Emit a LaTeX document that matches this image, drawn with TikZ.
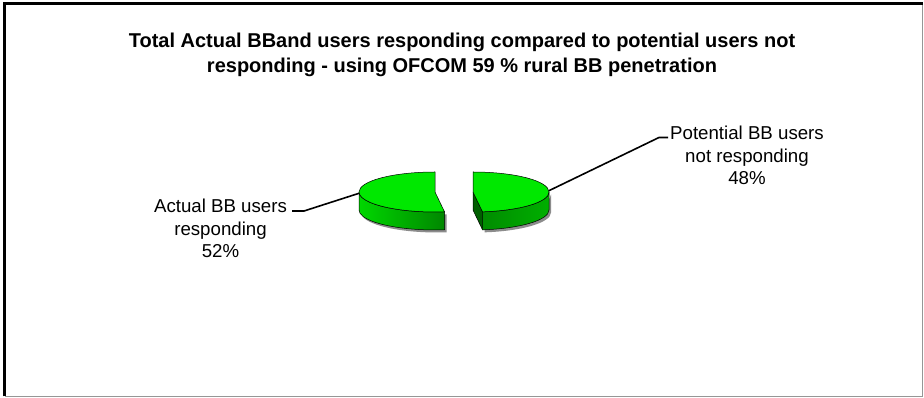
\documentclass[tikz,border=0pt]{standalone}
\usepackage{fontspec}
\setmainfont{Liberation Sans}
\definecolor{pietop}{RGB}{0,232,0}
\definecolor{sidelight}{RGB}{0,215,0}
\definecolor{sidemid}{RGB}{0,175,0}
\definecolor{sidedark}{RGB}{0,135,0}
\definecolor{cutface}{RGB}{0,95,0}
\definecolor{framegray}{RGB}{150,150,150}
\begin{document}
\begin{tikzpicture}[x=1pt,y=1pt,
  lbl/.style={font=\fontsize{18.67}{22.7}\selectfont, align=center, inner sep=0pt},
  ttl/.style={font=\fontsize{20}{25}\selectfont\bfseries, align=center, inner sep=0pt},
  leader/.style={line width=1.6pt, black, line join=round},
  topface/.style={fill=pietop, draw=black, line width=0.5pt, line join=round},
  sideface/.style={draw=black, line width=0.5pt, line join=round},
  shadowface/.style={fill=black!45},
  el/.style={x radius=76, y radius=20}]
\useasboundingbox (0,0) rectangle (924,398);
\fill[white] (0,0) rectangle (924,398);
% frame
\draw[line width=1pt, framegray] (922.5,394) -- (922.5,1.5) -- (4.5,1.5);
\draw[line width=2.5pt] (4.5,1.5) -- (4.5,394.5) -- (922.5,394.5);
% title
\node[ttl] (title) at (462,343) {Total Actual BBand users responding compared to potential users not\\responding - using OFCOM 59 \% rural BB penetration};
% ---- left slice (52%)
\coordinate (cL) at (435,206);
\path[shadowface] ([shift={(2,-2.5)}]cL) ++(180:76 and 20) arc[start angle=180, end angle=277.2, el] -- ++(0,-18) arc[start angle=277.2, end angle=180, el] -- cycle;
\path[sideface, left color=sidelight, right color=sidedark] (cL) ++(180:76 and 20) arc[start angle=180, end angle=277.2, el] -- ++(0,-18) arc[start angle=277.2, end angle=180, el] -- cycle;
\path[topface] (cL) -- ++(90:76 and 20) arc[start angle=90, end angle=277.2, el] -- cycle;
% ---- right slice (48%)
\coordinate (cR) at (473,206);
\path[shadowface] ([shift={(2,-2.5)}]cR) ++(-82.8:76 and 20) arc[start angle=-82.8, end angle=0, el] -- ++(0,-18) arc[start angle=0, end angle=-82.8, el] -- cycle;
\path[sideface, fill=cutface] (cR) -- ++(-82.8:76 and 20) -- ++(0,-18) -- ([yshift=-18]cR) -- cycle;
\path[sideface, left color=sidedark, middle color=sidemid, right color=sidemid] (cR) ++(-82.8:76 and 20) arc[start angle=-82.8, end angle=0, el] -- ++(0,-18) arc[start angle=0, end angle=-82.8, el] -- cycle;
\path[topface] (cR) -- ++(90:76 and 20) arc[start angle=90, end angle=-82.8, el] -- cycle;
% labels
\node[lbl] (lab52) at (220.5,169.5) {Actual BB users\\responding\\52\%};
\node[lbl] (lab48) at (747,242.5) {Potential BB users\\not responding\\48\%};
% leader lines
\coordinate (pL) at ([shift={(183.6:76 and 20)}]cL);
\coordinate (kL) at (304,187);
\coordinate (eL) at (292,187);
\coordinate (pR) at ([shift={(3.6:76 and 20)}]cR);
\coordinate (kR) at (659,260.5);
\coordinate (eR) at (668,260.5);
\draw[leader] (eL) -- (kL) -- (pL);
\draw[leader] (pR) -- (kR) -- (eR);
\end{tikzpicture}
\end{document}
